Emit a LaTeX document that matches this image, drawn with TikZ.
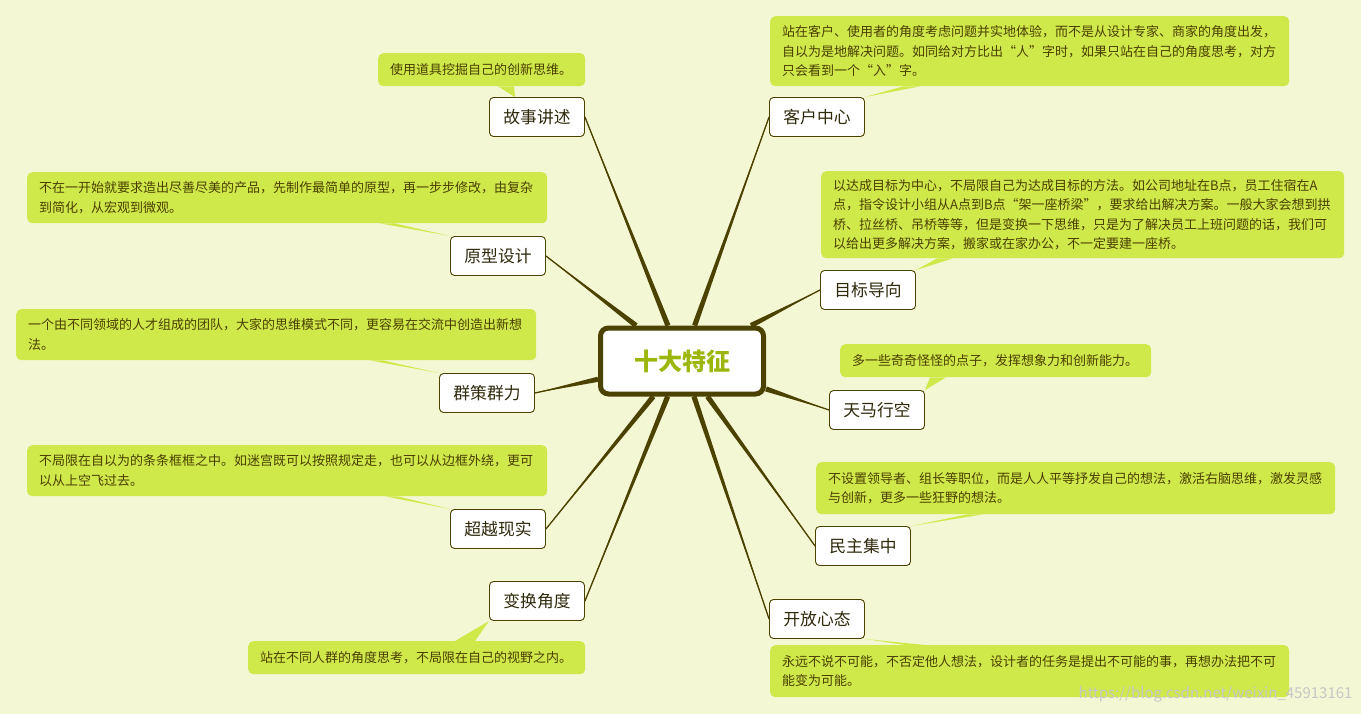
\documentclass[tikz,border=0pt]{standalone}
\usepackage{fontspec}
\setmainfont{Noto Sans CJK SC}
\usetikzlibrary{calc,backgrounds}
\definecolor{paper}{HTML}{F4F7D4}
\definecolor{notegreen}{HTML}{CFE94B}
\definecolor{mapline}{HTML}{4C4200}
\definecolor{notetext}{HTML}{4A3F00}
\definecolor{topictext}{HTML}{2F2A0C}
\definecolor{titlegreen}{HTML}{9CB60B}
\tikzset{
  mainbox/.style={draw=mapline, line width=5pt, fill=white, rounded corners=8pt,
    minimum width=163pt, minimum height=66pt, text=titlegreen,
    font=\bfseries\fontsize{24}{28}\selectfont},
  topic/.style={draw=mapline, line width=0.9pt, fill=white, rounded corners=4pt,
    minimum width=95pt, minimum height=39pt, text=topictext,
    font=\fontsize{16.8}{18}\selectfont},
  note/.style={fill=notegreen, rounded corners=5pt, anchor=north west, align=left,
    inner xsep=12pt, inner ysep=0pt, text=notetext,
    font=\fontsize{13}{19.5}\selectfont},
  tailfill/.style={fill=notegreen},
}
\begin{document}
\begin{tikzpicture}[x=1pt, y=-1pt]
\useasboundingbox (0,0) rectangle (1361,714);

% Centre
\node[mainbox] (core) at (682,361) {十大特征};

% Topics
\node[topic] (gs) at (537,117) {故事讲述};
\node[topic] (kh) at (817,117) {客户中心};
\node[topic] (yx) at (498,256) {原型设计};
\node[topic] (mb) at (868,290) {目标导向};
\node[topic] (qc) at (487,393) {群策群力};
\node[topic] (tm) at (877,410) {天马行空};
\node[topic] (cy) at (498,529) {超越现实};
\node[topic] (mz) at (863,546) {民主集中};
\node[topic] (bh) at (537,601) {变换角度};
\node[topic] (kf) at (817,619) {开放心态};

% Notes
\node[note, text width=183pt, minimum height=33pt] (ngs) at (378,53)
  {使用道具挖掘自己的创新思维。};
\node[note, text width=495pt, minimum height=70pt] (nkh) at (770,16)
  {站在客户、使用者的角度考虑问题并实地体验，而不是从设计专家、商家的角度出发，\\
   自以为是地解决问题。如同给对方比出“人”字时，如果只站在自己的角度思考，对方\\
   只会看到一个“入”字。};
\node[note, text width=496pt, minimum height=51pt] (nyx) at (27,172)
  {不在一开始就要求造出尽善尽美的产品，先制作最简单的原型，再一步步修改，由复杂\\
   到简化，从宏观到微观。};
\node[note, text width=499pt, minimum height=87pt] (nmb) at (821,171)
  {以达成目标为中心，不局限自己为达成目标的方法。如公司地址在B点，员工住宿在A\\
   点，指令设计小组从A点到B点“架一座桥梁”，要求给出解决方案。一般大家会想到拱\\
   桥、拉丝桥、吊桥等等，但是变换一下思维，只是为了解决员工上班问题的话，我们可\\
   以给出更多解决方案，搬家或在家办公，不一定要建一座桥。};
\node[note, text width=496pt, minimum height=51pt] (nqc) at (16,309)
  {一个由不同领域的人才组成的团队，大家的思维模式不同，更容易在交流中创造出新想\\
   法。};
\node[note, text width=287pt, minimum height=33pt] (ntm) at (840,344)
  {多一些奇奇怪怪的点子，发挥想象力和创新能力。};
\node[note, text width=496pt, minimum height=51pt] (ncy) at (27,445)
  {不局限在自以为的条条框框之中。如迷宫既可以按照规定走，也可以从边框外绕，更可\\
   以从上空飞过去。};
\node[note, text width=495pt, minimum height=52pt] (nmz) at (816,462)
  {不设置领导者、组长等职位，而是人人平等抒发自己的想法，激活右脑思维，激发灵感\\
   与创新，更多一些狂野的想法。};
\node[note, text width=313pt, minimum height=33pt] (nbh) at (248,641)
  {站在不同人群的角度思考，不局限在自己的视野之内。};
\node[note, text width=495pt, minimum height=52pt] (nkf) at (770,645)
  {永远不说不可能，不否定他人想法，设计者的任务是提出不可能的事，再想办法把不可\\
   能变为可能。};

\begin{scope}[on background layer]
\fill[paper] (0,0) rectangle (1361,714);

% Connectors
\foreach \b/\side in {gs/east, yx/east, qc/east, cy/east, bh/east,
                      kh/west, mb/west, tm/west, mz/west, kf/west} {
  \path (core) -- (\b.\side) coordinate[pos=0] (s);
  \fill[mapline] ($(s)!2.6pt!90:(\b.\side)$) -- (\b.\side)
    -- ($(s)!2.6pt!-90:(\b.\side)$) -- cycle;
  \draw[mapline, line width=1.3pt] (s) -- (\b.\side);
}

% Tails
\fill[tailfill] ($(ngs.south west)+(120,0)$) -- ($(ngs.south west)+(136,0)$) -- ($(gs.north)+(-22,0)$) -- cycle;
\fill[tailfill] ($(nkh.south west)+(133,0)$) -- ($(nkh.south west)+(150,0)$) -- (kh.north east) -- cycle;
\fill[tailfill] ($(nyx.south west)+(353,0)$) -- ($(nyx.south west)+(368,0)$) -- (yx.north west) -- cycle;
\fill[tailfill] ($(nmb.south west)+(116,0)$) -- ($(nmb.south west)+(132,0)$) -- (mb.north east) -- cycle;
\fill[tailfill] ($(nqc.south west)+(354,0)$) -- ($(nqc.south west)+(367,0)$) -- (qc.north west) -- cycle;
\fill[tailfill] ($(ntm.south west)+(90,0)$) -- ($(ntm.south west)+(106,0)$) -- (tm.north east) -- cycle;
\fill[tailfill] ($(ncy.south west)+(358,0)$) -- ($(ncy.south west)+(371,0)$) -- (cy.north west) -- cycle;
\fill[tailfill] ($(nmz.south west)+(151,0)$) -- ($(nmz.south west)+(167,0)$) -- (mz.north east) -- cycle;
\fill[tailfill] ($(nbh.north west)+(207,0)$) -- ($(nbh.north west)+(227,0)$) -- (bh.south west) -- cycle;
\fill[tailfill] ($(nkf.north west)+(135,0)$) -- ($(nkf.north west)+(155,0)$) -- (kf.south east) -- cycle;
\end{scope}

% Watermark
\node[anchor=east, text=black!22, font=\fontsize{15}{17}\selectfont] (wm) at (1356,694)
  {https://blog.csdn.net/weixin\_45913161};
\end{tikzpicture}
\end{document}
